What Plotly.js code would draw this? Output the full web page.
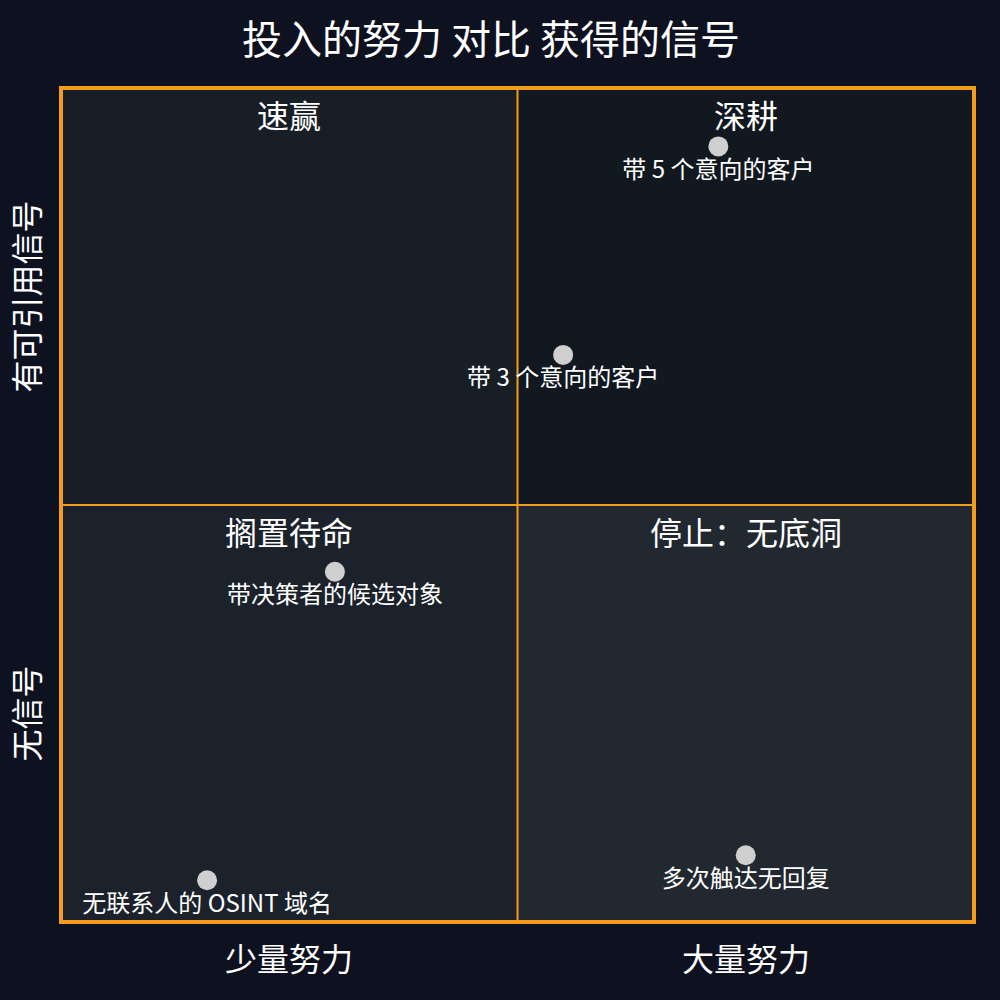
<!DOCTYPE html>
<html>
<head>
<meta charset="utf-8">
<script src="https://cdn.plot.ly/plotly-3.0.1.min.js"></script>
<style>html,body{margin:0;padding:0;background:#0e1120;}#chart{width:1000px;height:1000px;}</style>
</head>
<body>
<div id="chart"></div>
<script>
// Data
const pointLabels = ["带 5 个意向的客户", "带 3 个意向的客户", "带决策者的候选对象", "无联系人的 OSINT 域名", "多次触达无回复"];
const effort = [7.2, 5.5, 3.0, 1.6, 7.5];
const signal = [9.3, 6.8, 4.2, 0.5, 0.8];

const quadrantNames = ["速赢", "深耕", "搁置待命", "停止：无底洞"];
const quadrantX = [2.5, 7.5, 2.5, 7.5];
const quadrantY = [10, 10, 5, 5];

const xCategoryLabels = ["少量努力", "大量努力"];
const xCategoryPos = [2.5, 7.5];
const yCategoryLabels = ["有可引用信号", "无信号"];
const yCategoryPos = [7.5, 2.5];

const FONT = '"Noto Sans CJK SC", "Noto Sans", sans-serif';
const ORANGE = '#f39c1f';

const trace = {
  type: 'scatter',
  mode: 'markers+text',
  x: effort,
  y: signal,
  text: pointLabels,
  textposition: 'bottom center',
  textfont: {family: FONT, size: 24, color: '#ffffff'},
  marker: {size: 20, color: '#cfcfcf'},
  hoverinfo: 'text',
  cliponaxis: false,
  showlegend: false
};

const shapes = [
  {type:'rect', xref:'x', yref:'y', x0:0, x1:5, y0:5, y1:10, fillcolor:'#181e26', line:{width:0}, layer:'below'},
  {type:'rect', xref:'x', yref:'y', x0:5, x1:10, y0:5, y1:10, fillcolor:'#121820', line:{width:0}, layer:'below'},
  {type:'rect', xref:'x', yref:'y', x0:0, x1:5, y0:0, y1:5, fillcolor:'#1b222b', line:{width:0}, layer:'below'},
  {type:'rect', xref:'x', yref:'y', x0:5, x1:10, y0:0, y1:5, fillcolor:'#212830', line:{width:0}, layer:'below'},
  {type:'line', xref:'x', yref:'y', x0:5, x1:5, y0:0, y1:10, line:{color:ORANGE, width:2}, layer:'below'},
  {type:'line', xref:'x', yref:'y', x0:0, x1:10, y0:5, y1:5, line:{color:ORANGE, width:2}, layer:'below'},
  {type:'rect', xref:'paper', yref:'paper', x0:0, x1:1, y0:0, y1:1, line:{color:ORANGE, width:4}, fillcolor:'rgba(0,0,0,0)', layer:'above'}
];

const annotations = [];
quadrantNames.forEach((t, i) => annotations.push({
  x: quadrantX[i], y: quadrantY[i], xref:'x', yref:'y', text: t, showarrow:false,
  xanchor:'center', yanchor:'top', yshift:-1,
  font:{family:FONT, size:32, color:'#ffffff'}
}));
xCategoryLabels.forEach((t, i) => annotations.push({
  x: xCategoryPos[i], y: 0, xref:'x', yref:'y', text: t, showarrow:false,
  xanchor:'center', yanchor:'top', yshift:-10,
  font:{family:FONT, size:32, color:'#ffffff'}
}));
yCategoryLabels.forEach((t, i) => annotations.push({
  x: 0, y: yCategoryPos[i], xref:'x', yref:'y', text: t, showarrow:false,
  textangle:-90, xanchor:'right', yanchor:'middle', xshift:-12,
  font:{family:FONT, size:32, color:'#ffffff'}
}));

const layout = {
  width: 1000, height: 1000,
  paper_bgcolor: '#0e1120',
  plot_bgcolor: '#0e1120',
  margin: {l:61, r:26, t:88, b:78},
  title: {text:'投入的努力 对比 获得的信号', x:0.491, xanchor:'center', y:0.96, yanchor:'middle',
          font:{family:FONT, size:40, color:'#ffffff'}},
  xaxis: {range:[0,10], showgrid:false, zeroline:false, showticklabels:false, ticks:'', showline:false, fixedrange:true},
  yaxis: {range:[0,10], showgrid:false, zeroline:false, showticklabels:false, ticks:'', showline:false, fixedrange:true},
  shapes: shapes,
  annotations: annotations,
  font: {family: FONT, color:'#ffffff'}
};

Plotly.newPlot('chart', [trace], layout, {displayModeBar:false, staticPlot:true});
</script>
</body>
</html>
